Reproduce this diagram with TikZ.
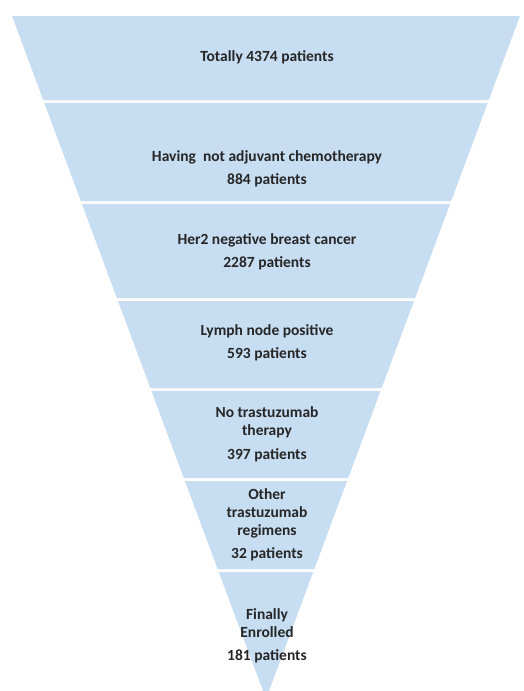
\documentclass[tikz,border=0pt]{standalone}
\usepackage{fontspec}
\setmainfont{Carlito}
\definecolor{funnelblue}{RGB}{199,221,241}
\tikzset{
  band/.style={fill=funnelblue},
  stage/.style={align=center, font=\fontsize{15.5}{18}\selectfont\bfseries, text=black!85}
}
\begin{document}
\begin{tikzpicture}[x=1pt, y=-1pt]
        \useasboundingbox (0,0) rectangle (523,691);

        % funnel bands, top/bottom edges
        \foreach \top/\bot in {16/100, 103/201, 204/298, 301/388, 391/478, 481/569, 572/699}{
            \pgfmathsetmacro\wt{0.37189*(699-\top)}
            \pgfmathsetmacro\wb{0.37189*(699-\bot)}
            \fill [band] ({266-\wt},\top) -- ({266+\wt},\top) -- ({266+\wb},\bot) -- ({266-\wb},\bot) -- cycle;
        }

        \node [stage] (total) at (267,57) {Totally 4374 patients};
        \node [stage] (chemo) at (267,168.5) {Having~ not adjuvant chemotherapy\\[5pt]884 patients};
        \node [stage] (her2) at (267,252) {Her2 negative breast cancer\\[5pt]2287 patients};
        \node [stage] (lymph) at (267,342.5) {Lymph node positive\\[5pt]593 patients};
        \node [stage] (notras) at (267,434) {No trastuzumab\\therapy\\[6pt]397 patients};
        \node [stage] (other) at (267,525) {Other\\trastuzumab\\regimens\\[5pt]32 patients};
        \node [stage] (final) at (267,635.5) {Finally\\Enrolled\\[5pt]181 patients};
    \end{tikzpicture}
\end{document}
